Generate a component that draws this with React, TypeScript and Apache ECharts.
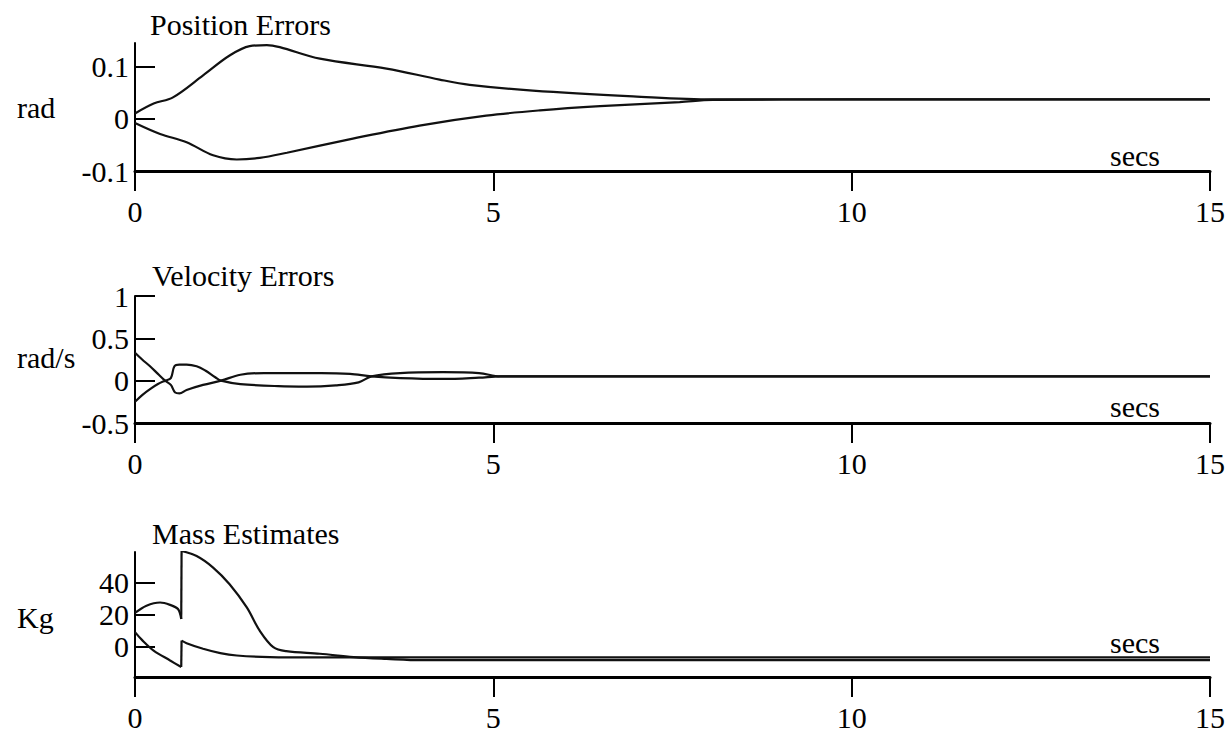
import React, { useEffect, useRef } from "react";
import * as echarts from "echarts";

// time (s), value
const posUpper: [number, number][] = [
  [0, 0.01], [0.26, 0.029], [0.53, 0.041], [0.95, 0.083], [1.32, 0.121], [1.6, 0.139],
  [1.84, 0.141], [2.02, 0.137], [2.58, 0.115], [3.51, 0.096], [4.25, 0.075], [4.67, 0.065],
  [5.55, 0.054], [6.95, 0.043], [8.06, 0.037], [10, 0.037], [15, 0.037],
];
const posLower: [number, number][] = [
  [0, -0.008], [0.35, -0.029], [0.72, -0.045], [1.09, -0.07], [1.42, -0.078], [1.74, -0.075],
  [2.12, -0.065], [3.04, -0.038], [3.97, -0.013], [4.9, 0.006], [5.65, 0.016],
  [6.49, 0.024], [7.6, 0.032], [8.06, 0.036], [10, 0.037], [15, 0.037],
];
const velA: [number, number][] = [
  [0, 0.33], [0.1, 0.25], [0.21, 0.17], [0.32, 0.08], [0.42, 0.0], [0.5, -0.05], [0.56, -0.14],
  [0.62, -0.15], [0.72, -0.11], [0.95, -0.05], [1.2, 0.0], [1.47, 0.07], [1.8, 0.09], [2.6, 0.09],
  [3.0, 0.08], [3.3, 0.05], [3.7, 0.03], [4.3, 0.02], [4.8, 0.035], [5.1, 0.05], [15, 0.05],
];
const velB: [number, number][] = [
  [0, -0.25], [0.1, -0.17], [0.21, -0.1], [0.32, -0.04], [0.42, 0.0], [0.5, 0.03], [0.55, 0.17],
  [0.62, 0.19], [0.72, 0.19], [0.86, 0.17], [0.98, 0.12], [1.12, 0.04], [1.2, 0.0], [1.47, -0.04],
  [2.0, -0.065], [2.4, -0.07], [2.8, -0.055], [3.12, -0.02], [3.3, 0.05], [3.7, 0.09], [4.3, 0.1],
  [4.8, 0.09], [5.1, 0.05], [15, 0.05],
];
// mass estimates: before and after the reset at t = 0.65 s
const massUpperBefore: [number, number][] = [
  [0, 21], [0.16, 25.5], [0.35, 27.5], [0.49, 26], [0.6, 23.4], [0.645, 17.2],
];
const massUpperAfter: [number, number][] = [
  [0.65, 59.6], [0.86, 56.5], [1.09, 49.3], [1.32, 38.9], [1.56, 24.4], [1.74, 9.9], [1.93, -0.4],
  [2.11, -2.9], [2.58, -4.5], [3.05, -6.6], [3.51, -7.7], [4, -8.5], [15, -8.5],
];
const massLowerBefore: [number, number][] = [
  [0, 9], [0.1, 4], [0.26, -2.5], [0.49, -8.7], [0.645, -12.8],
];
const massLowerAfter: [number, number][] = [
  [0.65, 3.7], [0.72, 2.1], [0.95, -1.4], [1.19, -4.1], [1.42, -5.6], [1.88, -6.6], [2.5, -6.8],
  [15, -6.8],
];

const xTicks = [0, 5, 10, 15];
const posTicks = [-0.1, 0, 0.1];
const velTicks = [-0.5, 0, 0.5, 1];
const massTicks = [0, 20, 40];

const titles = ["Position Errors", "Velocity Errors", "Mass Estimates"];
const units = ["rad", "rad/s", "Kg"];
const xName = "secs";

const FONT = '"Liberation Serif", "Times New Roman", serif';
const FS = 30;

export default function App() {
  const ref = useRef<HTMLDivElement>(null);
  useEffect(() => {
    if (!ref.current) return;
    const chart = echarts.init(ref.current, undefined, { renderer: "svg" });
    const grids = [
      { left: 135, top: 43, width: 1075, height: 128 },
      { left: 135, top: 296, width: 1075, height: 127 },
      { left: 135, top: 552, width: 1075, height: 125 },
    ];
    const yRanges = [
      { min: -0.1, max: 0.145, ticks: posTicks },
      { min: -0.5, max: 1, ticks: velTicks },
      { min: -19, max: 59, ticks: massTicks },
    ];
    const xAxis = grids.map((_, i) => ({
      type: "value",
      gridIndex: i,
      min: 0,
      max: 15,
      interval: 5,
      axisLine: { onZero: false, lineStyle: { color: "#000", width: 3 } },
      axisTick: { show: true, inside: false, length: 20, lineStyle: { color: "#000", width: 2 }, customValues: xTicks },
      axisLabel: {
        customValues: xTicks,
        margin: 40,
        verticalAlign: "middle",
        color: "#000",
        fontFamily: FONT,
        fontSize: FS,
      },
      splitLine: { show: false },
    }));
    const yAxis = yRanges.map((r, i) => ({
      type: "value",
      gridIndex: i,
      min: r.min,
      max: r.max,
      axisLine: { show: true, onZero: false, lineStyle: { color: "#000", width: 2 } },
      axisTick: { show: true, inside: true, length: 20, lineStyle: { color: "#000", width: 2 }, customValues: r.ticks },
      axisLabel: {
        customValues: r.ticks,
        margin: 6,
        color: "#000",
        fontFamily: FONT,
        fontSize: FS,
      },
      splitLine: { show: false },
    }));
    const mk = (data: [number, number][], i: number, smooth: number | boolean = 0.35) => ({
      type: "line",
      xAxisIndex: i,
      yAxisIndex: i,
      data,
      showSymbol: false,
      symbol: "none",
      smooth,
      lineStyle: { color: "#111", width: 2.2 },
    });
    const jump = (a: [number, number][], b: [number, number][]) =>
      mk([a[a.length - 1], b[0]], 2, false);
    const txt = (text: string, x: number, y: number, align = "left") => ({
      type: "text",
      x,
      y,
      style: {
        text,
        fill: "#000",
        font: `${FS}px ${FONT}`,
        textAlign: align,
        textVerticalAlign: "middle",
      },
    });
    chart.setOption({
      animation: false,
      backgroundColor: "#fff",
      grid: grids,
      xAxis,
      yAxis,
      series: [
        mk(posUpper, 0),
        mk(posLower, 0),
        mk(velA, 1),
        mk(velB, 1),
        mk(massUpperBefore, 2),
        jump(massUpperBefore, massUpperAfter),
        mk(massUpperAfter, 2),
        mk(massLowerBefore, 2),
        jump(massLowerBefore, massLowerAfter),
        mk(massLowerAfter, 2),
      ],
      graphic: [
        txt(titles[0], 150, 24),
        txt(titles[1], 152, 275),
        txt(titles[2], 152, 533),
        txt(units[0], 17, 107),
        txt(units[1], 17, 357),
        txt(units[2], 17, 617),
        txt(xName, 1135, 155, "center"),
        txt(xName, 1135, 406, "center"),
        txt(xName, 1135, 642, "center"),
      ],
    });
    return () => chart.dispose();
  }, []);
  return (
    <div
      ref={ref}
      style={{ position: "fixed", left: 0, top: 0, width: 1231, height: 735, background: "#fff" }}
    />
  );
}
